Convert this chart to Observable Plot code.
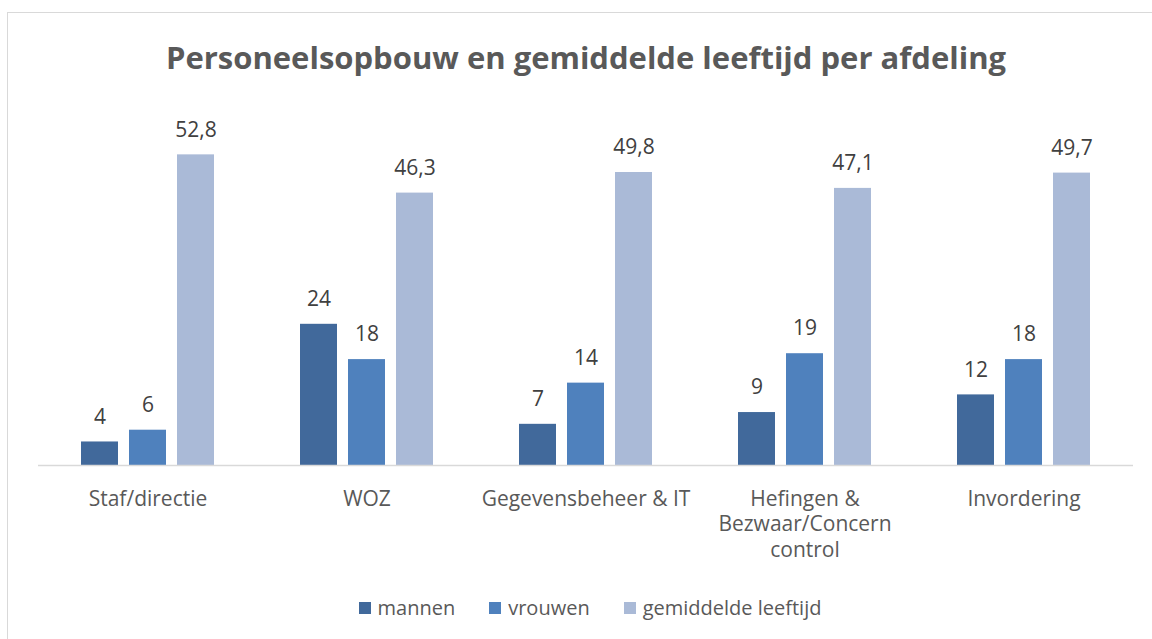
<!DOCTYPE html>
<html>
<head>
<meta charset="utf-8">
<script src="https://cdn.jsdelivr.net/npm/d3@7"></script>
<script src="https://cdn.jsdelivr.net/npm/@observablehq/plot@0.6"></script>
<style>
  html, body { margin: 0; padding: 0; background: #fff; overflow: hidden; }
  #wrap { position: relative; width: 1152px; height: 639px; overflow: hidden; font-family: "Open Sans", sans-serif; }
  #frame { position: absolute; left: 7px; top: 12px; width: 1200px; height: 700px; border: 1px solid #d9d9d9; box-sizing: border-box; }
  #title { position: absolute; left: 0; width: 1172px; top: 36px; text-align: center; font-size: 31px; font-weight: 700; color: #595959; line-height: 42px; white-space: nowrap; }
  #chart { position: absolute; left: 0; top: 90px; }
  #legend { position: absolute; left: 0; width: 1180px; top: 594px; display: flex; justify-content: center; gap: 34px; font-size: 20px; color: #595959; line-height: 28px; }
  .item { display: flex; align-items: center; gap: 7px; }
  .sw { width: 12px; height: 12px; display: inline-block; }
</style>
</head>
<body>
<div id="wrap">
  <div id="frame"></div>
  <div id="title">Personeelsopbouw en gemiddelde leeftijd per afdeling</div>
  <div id="chart"></div>
  <div id="legend"></div>
</div>
<script>
const categories = ["Staf/directie", "WOZ", "Gegevensbeheer & IT", "Hefingen & Bezwaar/Concern control", "Invordering"];
const tickLabels = ["Staf/directie", "WOZ", "Gegevensbeheer & IT", "Hefingen &\nBezwaar/Concern\ncontrol", "Invordering"];
const series = ["mannen", "vrouwen", "gemiddelde leeftijd"];
const mannen = [4, 24, 7, 9, 12];
const vrouwen = [6, 18, 14, 19, 18];
const leeftijd = [52.8, 46.3, 49.8, 47.1, 49.7];
const colors = ["#41699b", "#4f81bd", "#aabad7"];

const values = [mannen, vrouwen, leeftijd];
const data = [];
categories.forEach((c, i) => {
  series.forEach((s, j) => {
    data.push({cat: c, series: s, value: values[j][i]});
  });
});
const fmt = v => String(v).replace(".", ",");
const labelOf = new Map(categories.map((c, i) => [c, tickLabels[i]]));

const chart = Plot.plot({
  width: 1152,
  height: 490,
  marginLeft: 36,
  marginRight: 17,
  marginTop: 22,
  marginBottom: 115,
  style: {fontFamily: "'Open Sans', sans-serif", background: "transparent"},
  fx: {domain: categories, padding: 0, axis: null},
  x: {domain: series, paddingInner: 0.22, paddingOuter: 0.87, axis: null},
  y: {domain: [0, 60], axis: null},
  color: {domain: series, range: colors},
  marks: [
    Plot.barY(data, {fx: "cat", x: "series", y: "value", fill: "series"}),
    Plot.ruleY([0], {stroke: "#d9d9d9", strokeWidth: 1.5}),
    Plot.text(data, {fx: "cat", x: "series", y: "value", text: d => fmt(d.value), dy: -25, fill: "#404040", fontSize: 21}),
    Plot.axisFx({anchor: "bottom", tickSize: 0, tickPadding: 22, fontSize: 21, lineHeight: 1.22, fill: "#595959", tickFormat: d => labelOf.get(d), label: null})
  ]
});
document.getElementById("chart").appendChild(chart);

const legend = document.getElementById("legend");
series.forEach((s, j) => {
  const it = document.createElement("div");
  it.className = "item";
  const sw = document.createElement("span");
  sw.className = "sw";
  sw.style.background = colors[j];
  const t = document.createElement("span");
  t.textContent = s;
  it.appendChild(sw);
  it.appendChild(t);
  legend.appendChild(it);
});
</script>
</body>
</html>
